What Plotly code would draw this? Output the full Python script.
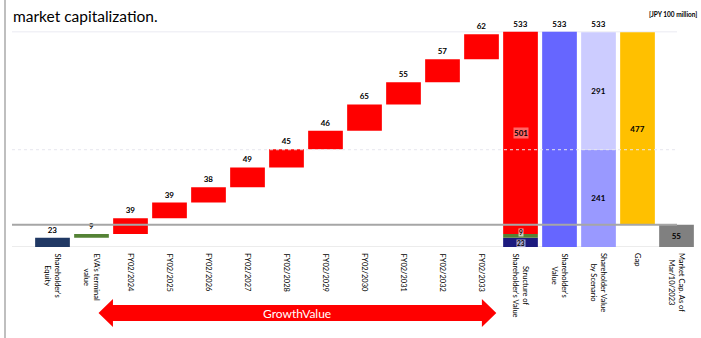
import numpy as np
import plotly.graph_objects as go

# ---- data (JPY 100 million) ----
categories = [
    "Shareholder's<br>Equity", "EVA's terminal<br>value",
    "FY02/2024", "FY02/2025", "FY02/2026", "FY02/2027", "FY02/2028",
    "FY02/2029", "FY02/2030", "FY02/2031", "FY02/2032", "FY02/2033",
    "Structure of<br>Shareholder's Value", "Shareholder's<br>Value",
    "Shareholder Value<br>by Scenario", "Gap", "Market Cap. As of<br>Mar/10/2023",
]
build_values = [23, 9, 39, 39, 38, 49, 45, 46, 65, 55, 57, 62]
structure_parts = [23, 9, 501]          # equity, EVA terminal value, growth value
shareholder_value = 533
scenario_parts = [241, 291]
gap_value = 477
market_cap = 55
total_value = 533

# ---- styling ----
NAVY, GREEN, RED = "#203864", "#548235", "#FF0000"
INDIGO = "#1C1A7E"
SV_BLUE, SC_DARK, SC_LIGHT = "#6666FF", "#9999FF", "#CCCCFF"
GAP_GOLD, MC_GRAY = "#FFC000", "#808080"
FONT = "Lato"
BAR_W = 0.89

W, H = 701, 338
ML, MR, MT, MB = 33, 5, 29, 91
PW, PH = W - ML - MR, H - MT - MB


def pxx(px):
    return (px - ML) / PW


def pxy(py):
    return (H - MB - py) / PH


label_font = dict(family=FONT, size=8, color="#000000", weight="bold")
n_build = len(build_values)
x_build = list(range(n_build))
i_struct, i_sv, i_sc, i_gap, i_mc = range(n_build, n_build + 5)

fig = go.Figure()

# cumulative build-up bars
build_base = np.concatenate([[0], np.cumsum(build_values)[:-1]])
build_colors = [NAVY, GREEN] + [RED] * (n_build - 2)
fig.add_trace(go.Bar(
    x=x_build, y=build_values, base=build_base, width=BAR_W,
    marker=dict(color=build_colors, line=dict(width=0)),
    text=[str(v) for v in build_values], textposition="outside",
    textfont=label_font, constraintext="none", cliponaxis=False,
))

# structure of shareholder's value (stacked)
struct_base = np.concatenate([[0], np.cumsum(structure_parts)[:-1]])
for val, base, col in zip(structure_parts, struct_base, [INDIGO, GREEN, RED]):
    fig.add_trace(go.Bar(
        x=[i_struct], y=[val], base=[base], width=BAR_W,
        marker=dict(color=col, line=dict(width=0)),
    ))

# shareholder value by scenario (stacked)
sc_base = np.concatenate([[0], np.cumsum(scenario_parts)[:-1]])
for val, base, col in zip(scenario_parts, sc_base, [SC_DARK, SC_LIGHT]):
    fig.add_trace(go.Bar(
        x=[i_sc], y=[val], base=[base], width=BAR_W,
        marker=dict(color=col, line=dict(width=0)),
        text=[str(val)], textposition="inside", insidetextanchor="middle",
        textfont=label_font, constraintext="none",
    ))

# gap between shareholder value and market cap
fig.add_trace(go.Bar(
    x=[i_gap], y=[gap_value], base=[market_cap], width=BAR_W,
    marker=dict(color=GAP_GOLD, line=dict(width=0)),
    text=[str(gap_value)], textposition="inside", insidetextanchor="middle",
    textfont=label_font, constraintext="none",
))

# market capitalisation
fig.add_trace(go.Bar(
    x=[i_mc], y=[market_cap], base=[0], width=BAR_W,
    marker=dict(color=MC_GRAY, line=dict(width=0)),
    text=[str(market_cap)], textposition="inside", insidetextanchor="middle",
    textfont=label_font, constraintext="none",
))

# shareholder's value bar plus total labels over the stacked columns
fig.add_trace(go.Bar(
    x=[i_struct, i_sv, i_sc], y=[total_value, shareholder_value, total_value],
    base=[0, 0, 0], width=BAR_W,
    marker=dict(color=["rgba(0,0,0,0)", SV_BLUE, "rgba(0,0,0,0)"], line=dict(width=0)),
    text=[str(total_value), str(shareholder_value), str(total_value)],
    textposition="outside", textfont=label_font, constraintext="none", cliponaxis=False,
))

annotations = []
# boxed labels inside the structure column
eq_val, eva_val, growth_val = structure_parts
eq_base, eva_base, growth_base = struct_base
small_font = dict(family=FONT, size=6.5, color="#000000", weight="bold")
annotations.append(dict(
    x=i_struct, y=eq_base + eq_val / 2, xref="x", yref="y", text=str(eq_val),
    showarrow=False, bgcolor="rgba(225,225,240,0.7)", borderpad=0,
    yshift=-1, font=small_font,
))
annotations.append(dict(
    x=i_struct, y=eva_base + eva_val, xref="x", yref="y", text=str(eva_val),
    showarrow=False, bgcolor="rgba(235,235,235,0.75)", borderpad=0,
    yshift=2, font=small_font,
))
annotations.append(dict(
    x=i_struct, y=growth_base + growth_val / 2, xref="x", yref="y", text=str(growth_val),
    showarrow=False, bgcolor="rgba(255,255,255,0.4)", borderpad=0,
    font=dict(family=FONT, size=8, color="#000000", weight="bold"),
))

# rotated category labels
for i, lab in enumerate(categories):
    annotations.append(dict(
        x=i, y=pxy(251), xref="x", yref="paper", text=lab, textangle=90,
        showarrow=False, xanchor="center", yanchor="top", align="center",
        font=dict(family=FONT, size=7.5, color="#000000"),
    ))

# heading and unit
annotations.append(dict(
    x=pxx(11), y=pxy(16), xref="paper", yref="paper", text="market capitalization.",
    showarrow=False, xanchor="left", yanchor="middle",
    font=dict(family=FONT, size=15.5, color="#000000"),
))
annotations.append(dict(
    x=pxx(699), y=pxy(14), xref="paper", yref="paper", text="[JPY 100 million]",
    showarrow=False, xanchor="right", yanchor="middle",
    font=dict(family=FONT, size=6.5, color="#000000", weight="bold"),
))

# growth value arrow under the forecast years
ax0, ax1, head = 1.18, 11.38, 0.37
yc, ys_t, ys_b, yh_t, yh_b = pxy(313), pxy(305), pxy(321), pxy(299), pxy(327)
arrow_path = (
    f"M {ax0},{yc} L {ax0 + head},{yh_t} L {ax0 + head},{ys_t} "
    f"L {ax1 - head},{ys_t} L {ax1 - head},{yh_t} L {ax1},{yc} "
    f"L {ax1 - head},{yh_b} L {ax1 - head},{ys_b} L {ax0 + head},{ys_b} "
    f"L {ax0 + head},{yh_b} Z"
)
annotations.append(dict(
    x=(ax0 + ax1) / 2, y=yc, xref="x", yref="paper", text="GrowthValue",
    showarrow=False, xanchor="center", yanchor="middle",
    font=dict(family=FONT, size=12, color="#FFFFFF"),
))

gx0, gx1 = pxx(12), pxx(677)
shapes = [
    dict(type="path", path=arrow_path, xref="x", yref="paper",
         fillcolor=RED, line=dict(width=0)),
    # left page border
    dict(type="line", xref="paper", yref="paper", x0=pxx(5), x1=pxx(5),
         y0=pxy(H), y1=pxy(0), line=dict(color="#BFBFBF", width=2)),
    # grid
    dict(type="line", xref="paper", yref="y", x0=gx0, x1=gx1, y0=total_value,
         y1=total_value, line=dict(color="#EAEAF2", width=1), layer="below"),
    dict(type="line", xref="paper", yref="y", x0=gx0, x1=gx1, y0=scenario_parts[0],
         y1=scenario_parts[0], line=dict(color="#E6E6EE", width=1, dash="dot"),
         layer="above"),
    dict(type="line", xref="paper", yref="y", x0=gx0, x1=gx1, y0=0, y1=0,
         line=dict(color="#D9D9D9", width=1), layer="below"),
    # market cap reference line
    dict(type="line", xref="paper", yref="y", x0=gx0, x1=gx1, y0=market_cap,
         y1=market_cap, line=dict(color="#A6A6A6", width=2), layer="above"),
]

fig.update_layout(
    width=W, height=H, margin=dict(l=ML, r=MR, t=MT, b=MB),
    paper_bgcolor="#FFFFFF", plot_bgcolor="#FFFFFF",
    barmode="overlay", showlegend=False,
    xaxis=dict(range=[-0.5, len(categories) - 0.5], showticklabels=False,
               showgrid=False, zeroline=False, showline=False, ticks=""),
    yaxis=dict(range=[0, 540], showticklabels=False, showgrid=False,
               zeroline=False, showline=False, ticks=""),
    annotations=annotations, shapes=shapes,
    font=dict(family=FONT),
)

fig.write_html("out.html")
